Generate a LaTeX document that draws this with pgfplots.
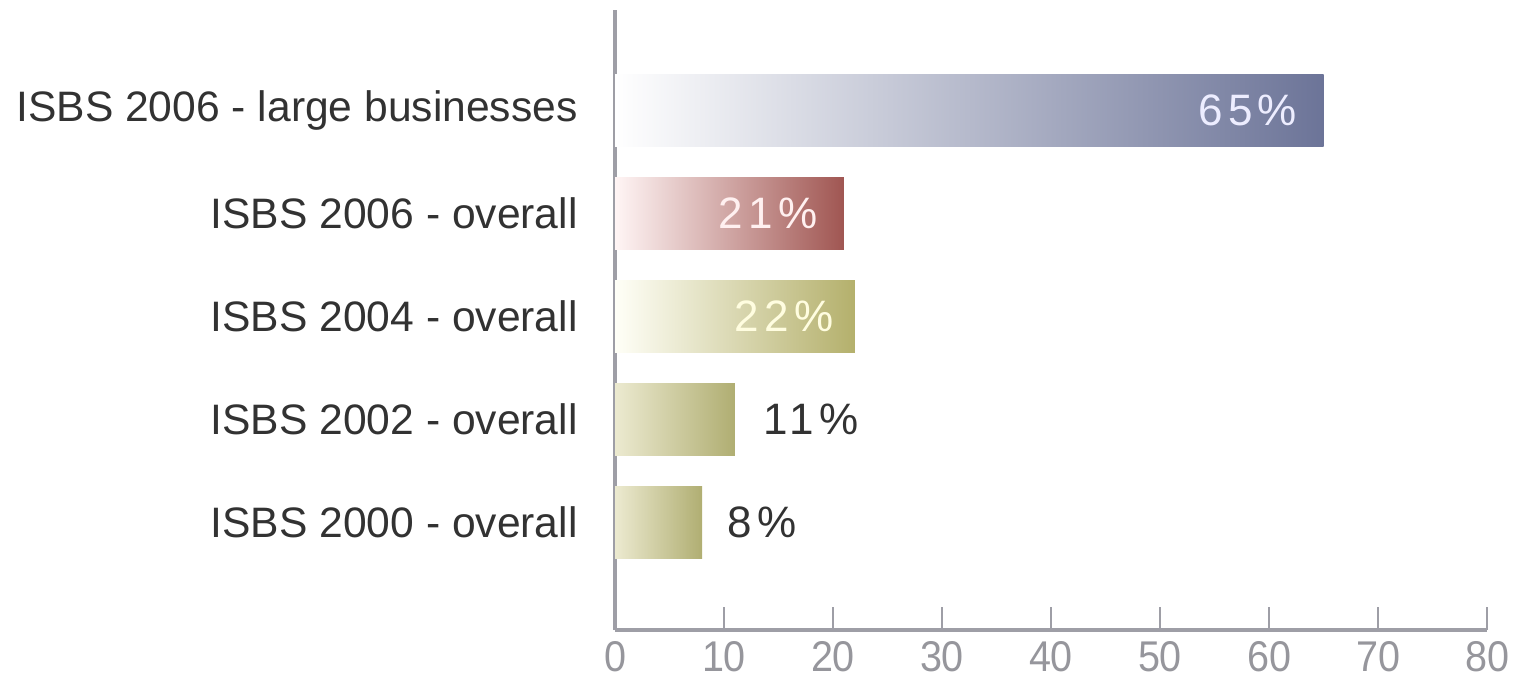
\documentclass[border=0pt]{standalone}
\usepackage{fontspec}
\setmainfont{Liberation Sans}
\usepackage{pgfplots}
\pgfplotsset{compat=1.18}
\definecolor{axisgray}{RGB}{158,158,166}
\definecolor{tickgray}{RGB}{150,150,156}
\definecolor{labelgray}{RGB}{50,50,50}
\definecolor{cblue}{RGB}{108,116,152}
\definecolor{cred}{RGB}{160,86,82}
\definecolor{colive}{RGB}{180,176,108}
\definecolor{colive2}{RGB}{176,174,114}
\definecolor{colivel}{RGB}{236,234,208}
\begin{document}
\begin{tikzpicture}
\path[use as bounding box] (0,0) rectangle (762bp,339bp);
\begin{axis}[
  at={(307.5bp,24bp)}, anchor=south west,
  scale only axis, width=436bp, height=310bp,
  xmin=0, xmax=80, ymin=-1.04, ymax=4.97,
  axis x line*=bottom, axis y line*=left,
  axis line style={draw=axisgray, line width=1.7bp, -},
  xtick={0,10,...,80},
  tick align=inside,
  major tick length=11.5bp,
  x tick style={draw=axisgray, line width=1.1bp},
  ytick={0,1,2,3,4},
  yticklabels={ISBS 2000 - overall, ISBS 2002 - overall, ISBS 2004 - overall, ISBS 2006 - overall, ISBS 2006 - large businesses},
  y tick style={draw=none},
  yticklabel style={font=\fontsize{21.3bp}{24bp}\selectfont, text=labelgray, inner sep=0pt, anchor=east, xshift=-18.5bp},
  xticklabel style={font=\fontsize{21.5bp}{24bp}\selectfont, text=tickgray, inner sep=0pt, anchor=north, yshift=-5.5bp, xscale=0.92},
  /pgf/number format/assume math mode=true,
  clip=false,
  every axis plot/.append style={xbar, bar width=36bp, bar shift=0pt, draw=none},
  point meta=x,
  nodes near coords={\addfontfeature{LetterSpace=12}\pgfmathprintnumber{\pgfplotspointmeta}\%},
]
\addplot[left color=white, right color=cblue,
  nodes near coords style={font=\fontsize{22bp}{24bp}\selectfont, text=white!93!blue, inner sep=0pt, anchor=east, xshift=-13bp}]
  coordinates {(65,4)};
\addplot[left color=red!4!white, right color=cred,
  nodes near coords style={font=\fontsize{22bp}{24bp}\selectfont, text=white!94!red, inner sep=0pt, anchor=east, xshift=-13bp}]
  coordinates {(21,3)};
\addplot[left color=white!97!yellow, right color=colive,
  nodes near coords style={font=\fontsize{22bp}{24bp}\selectfont, text=yellow!12!white, inner sep=0pt, anchor=east, xshift=-10.5bp}]
  coordinates {(22,2)};
\addplot[left color=colivel, right color=colive2,
  nodes near coords style={font=\fontsize{22bp}{24bp}\selectfont, text=labelgray, inner sep=0pt, anchor=west, xshift=14bp}]
  coordinates {(11,1)};
\addplot[left color=colivel, right color=colive2,
  nodes near coords style={font=\fontsize{22bp}{24bp}\selectfont, text=labelgray, inner sep=0pt, anchor=west, xshift=12.5bp}]
  coordinates {(8,0)};
\end{axis}
\end{tikzpicture}
\end{document}
